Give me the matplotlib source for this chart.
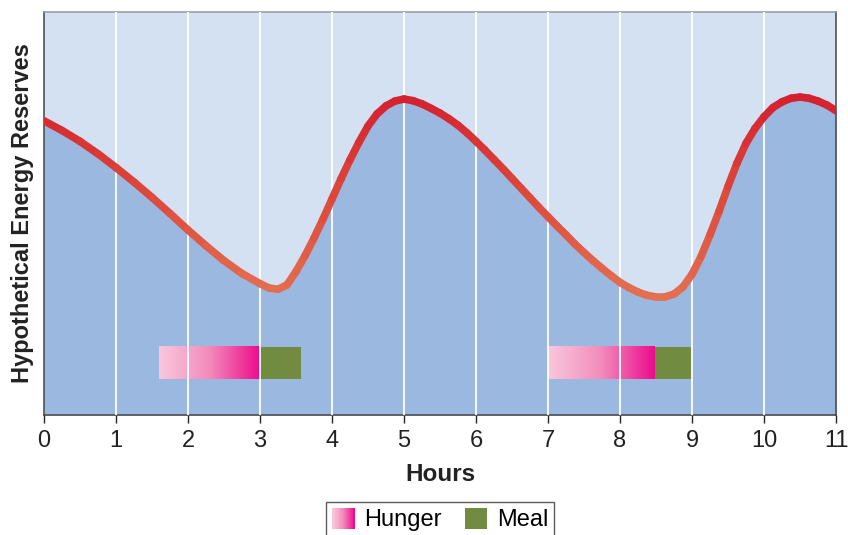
import numpy as np
import matplotlib
matplotlib.use('Agg')
from matplotlib import pyplot as plt
from matplotlib.collections import LineCollection
from matplotlib.colors import LinearSegmentedColormap
from matplotlib.patches import Rectangle, Patch
from matplotlib.legend_handler import HandlerBase

plt.rcParams['font.family'] = ['Liberation Sans', 'DejaVu Sans']

# energy curve (hours, reserve on a 0-100 scale)
hours = list(np.arange(0, 3, 0.25)) + list(np.arange(3, 11.001, 0.125))
energy = [73.0, 70.6, 67.9, 64.8, 61.4, 57.8, 54.0, 50.0, 45.9, 42.0, 38.3, 35.1,
          32.6, 31.5, 31.2, 32.3, 35.6, 39.5, 43.9, 48.6,
          53.6, 58.6, 63.3, 67.7, 71.7, 74.7, 76.7, 77.9,
          78.4, 78.0, 77.2, 76.1, 74.9, 73.5, 71.9, 70.0,
          67.9, 65.7, 63.4, 61.1, 58.7, 56.3, 53.9, 51.5,
          49.2, 46.9, 44.7, 42.4, 40.3, 38.3, 36.4, 34.6,
          32.9, 31.6, 30.5, 29.7, 29.3, 29.3, 30.0, 31.8,
          34.9, 39.3, 44.7, 50.5, 56.7, 62.5, 67.4, 71.1,
          74.0, 76.3, 77.7, 78.6, 78.9, 78.6, 77.9, 76.9,
          75.5]

xticks = list(range(0, 12))

# hunger / meal periods: (start, end) in hours
hunger = [(1.6, 3.0), (7.0, 8.48)]
meal = [(3.0, 3.57), (8.48, 9.0)]
bar_lo, bar_hi = 8.9, 16.9

hunger_cmap = LinearSegmentedColormap.from_list('hunger', ['#f8c8dd', '#f28cbb', '#ec0c8c'])
line_cmap = LinearSegmentedColormap.from_list('line', ['#e37152', '#dc4a3c', '#d4212f'])
meal_col = '#718b40'


class GradientHandler(HandlerBase):
    def create_artists(self, legend, orig_handle, xdescent, ydescent, width, height, fontsize, trans):
        n = 24
        arts = []
        for i in range(n):
            r = Rectangle((-xdescent + i * width / n, -ydescent), width / n + 0.3, height,
                          facecolor=hunger_cmap(i / (n - 1)), edgecolor='none', transform=trans)
            arts.append(r)
        return arts


fig = plt.figure(figsize=(8.48, 5.35), dpi=100)
ax = fig.add_axes([44 / 848, 1 - 415 / 535, 792 / 848, 403 / 535])
ax.set_facecolor('#d4e1f2')

x = np.array(hours)
y = np.array(energy)
ax.fill_between(x, 0, y, color='#9bb9e0', lw=0, zorder=1)

for (a, b) in hunger:
    grad = np.linspace(0, 1, 256).reshape(1, -1)
    ax.imshow(grad, cmap=hunger_cmap, extent=[a, b, bar_lo, bar_hi], aspect='auto', zorder=2)
for (a, b) in meal:
    ax.add_patch(Rectangle((a, bar_lo), b - a, bar_hi - bar_lo, facecolor=meal_col, edgecolor='none', zorder=2))

ax.vlines(xticks[1:-1], 0, 100, color='white', lw=1.3, zorder=3)

pts = np.array([x, y]).T.reshape(-1, 1, 2)
segs = np.concatenate([pts[:-1], pts[1:]], axis=1)
lc = LineCollection(segs, cmap=line_cmap, norm=plt.Normalize(29, 79), linewidths=5.5,
                    capstyle='round', joinstyle='round', zorder=4)
lc.set_array((y[:-1] + y[1:]) / 2)
ax.add_collection(lc)

ax.set_xlim(0, 11)
ax.set_ylim(0, 100)
ax.set_xticks(xticks)
ax.set_yticks([])
ax.tick_params(axis='x', direction='out', length=6, width=1, colors='#222222', labelsize=17, pad=5)
for s in ax.spines.values():
    s.set_color('#444444')
    s.set_linewidth(1.1)
ax.spines['top'].set_color('#999999')

ax.set_xlabel('Hours', fontsize=17.5, fontweight='bold', labelpad=8, color='#222222')
ax.set_ylabel('Hypothetical Energy Reserves', fontsize=17, fontweight='bold', labelpad=7, color='#222222')

h1 = Patch(facecolor='#ec0c8c')
h2 = Patch(facecolor=meal_col)
leg = fig.legend([h1, h2], ['Hunger', 'Meal'], loc='upper center', bbox_to_anchor=(0.519, 0.062),
                 ncol=2, fontsize=17, frameon=True, fancybox=False, edgecolor='#333333',
                 handlelength=0.95, handleheight=1.0, handletextpad=0.4, columnspacing=1.0,
                 borderpad=0.25, borderaxespad=0, handler_map={h1: GradientHandler()})
leg.get_frame().set_linewidth(1.0)

fig.savefig('out.png', dpi=100)
